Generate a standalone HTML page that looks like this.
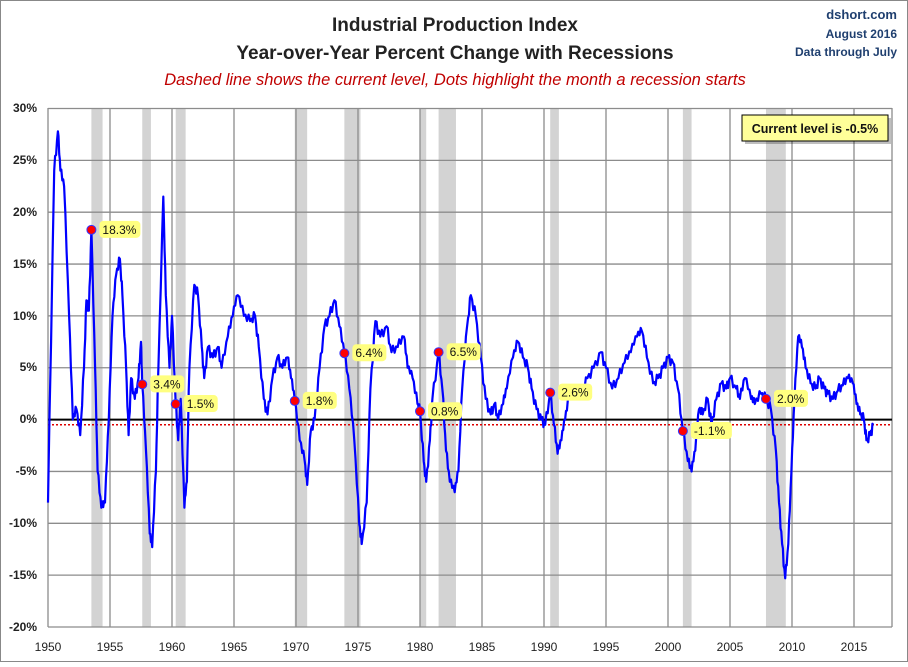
<!DOCTYPE html>
<html><head><meta charset="utf-8"><style>
body{margin:0;background:#fff}
svg text{font-family:"Liberation Sans",sans-serif}
</style></head><body>
<svg id="s" width="908" height="662" xmlns="http://www.w3.org/2000/svg">
<rect x="0.5" y="0.5" width="907" height="661" fill="#fff" stroke="#888"/>
<g id="rec" fill="#d3d3d3"></g>
<g id="grid" stroke="#8c8c8c" stroke-width="1.3"></g>
<line x1="48" y1="419.6" x2="892" y2="419.6" stroke="#000" stroke-width="2"/>
<line x1="48" y1="424.8" x2="892" y2="424.8" stroke="#d00" stroke-width="1.5" stroke-dasharray="2,2"/>
<polyline id="pl" fill="none" stroke="#0000ff" stroke-width="2.2" stroke-linejoin="round"/>
<g id="dots"></g>
<text x="455" y="31" text-anchor="middle" font-size="19" font-weight="bold" fill="#222">Industrial Production Index</text>
<text x="455" y="59" text-anchor="middle" font-size="19" font-weight="bold" fill="#222">Year-over-Year Percent Change with Recessions</text>
<text x="455" y="85" text-anchor="middle" font-size="16.5" font-style="italic" fill="#c00000">Dashed line shows the current level, Dots highlight the month a recession starts</text>
<text x="897" y="19" text-anchor="end" font-size="13" font-weight="bold" fill="#1f3f6f">dshort.com</text>
<text x="897" y="38" text-anchor="end" font-size="12" font-weight="bold" fill="#1f3f6f">August 2016</text>
<text x="897" y="56" text-anchor="end" font-size="12" font-weight="bold" fill="#1f3f6f">Data through July</text>
<rect x="745" y="118" width="146" height="26" fill="#000" opacity="0.25"/>
<rect x="742" y="115" width="146" height="26" fill="#ffff99" stroke="#000"/>
<text x="815" y="133" text-anchor="middle" font-size="12.5" font-weight="bold" fill="#111">Current level is -0.5%</text>
<g font-size="12" font-weight="bold" fill="#222" text-anchor="end">
<text x="37" y="112">30%</text><text x="37" y="164">25%</text><text x="37" y="216">20%</text><text x="37" y="268">15%</text><text x="37" y="320">10%</text><text x="37" y="371">5%</text><text x="37" y="423">0%</text><text x="37" y="475">-5%</text><text x="37" y="527">-10%</text><text x="37" y="579">-15%</text><text x="37" y="631">-20%</text>
</g>
<g font-size="12" fill="#222" text-anchor="middle">
<text x="48" y="651">1950</text><text x="110" y="651">1955</text><text x="172" y="651">1960</text><text x="234" y="651">1965</text><text x="296" y="651">1970</text><text x="358" y="651">1975</text><text x="420" y="651">1980</text><text x="482" y="651">1985</text><text x="544" y="651">1990</text><text x="606" y="651">1995</text><text x="668" y="651">2000</text><text x="730" y="651">2005</text><text x="792" y="651">2010</text><text x="854" y="651">2015</text>
</g>
</svg>
<script>
var X=function(t){return 48+(t-1950)*12.4},Y=function(v){return 419.6-v*10.37};
var N="http://www.w3.org/2000/svg";
function el(p,t,a){var e=document.createElementNS(N,t);for(var k in a)e.setAttribute(k,a[k]);p.appendChild(e);return e}
var rec=[[1953.5,1954.4],[1957.6,1958.3],[1960.3,1961.1],[1969.9,1970.9],[1973.9,1975.2],[1980.0,1980.5],[1981.5,1982.9],[1990.5,1991.2],[2001.2,2001.9],[2007.9,2009.5]];
var R=document.getElementById('rec');
rec.forEach(function(r){el(R,'rect',{x:X(r[0]),y:108,width:X(r[1])-X(r[0]),height:519})});
var G=document.getElementById('grid');
for(var v=-20;v<=30;v+=5){if(v!=0)el(G,'line',{x1:48,x2:892,y1:Y(v),y2:Y(v)})}
for(var y=1950;y<=2015;y+=5)el(G,'line',{x1:X(y),x2:X(y),y1:108,y2:627});
el(G,'line',{x1:892,x2:892,y1:108,y2:627});
var d=[1950.0,-8,1950.5,24,1950.8,27.8,1951.0,24,1951.3,22.5,1951.7,10,1952.0,0,1952.3,1,1952.6,-1.5,1952.9,5,1953.1,11.5,1953.3,10.5,1953.5,18.3,1953.8,5,1954.0,-5,1954.3,-8.5,1954.6,-8,1954.9,0,1955.2,10,1955.5,14,1955.8,15.5,1956.0,12,1956.3,5,1956.5,-1.5,1956.7,4,1957.0,2,1957.3,4,1957.5,7.5,1957.6,3.4,1957.9,-3,1958.2,-11,1958.4,-12.3,1958.7,-5,1958.9,5,1959.3,21.5,1959.5,12,1959.8,5,1960.0,10,1960.3,1.5,1960.5,-2,1960.7,2,1961.0,-8.5,1961.2,-6,1961.4,5,1961.8,13,1962.1,12,1962.4,7,1962.6,4,1962.9,7,1963.3,6,1963.7,7,1964.0,5,1964.5,8,1964.9,10,1965.3,12,1965.8,10,1966.3,9.5,1966.7,10,1967.0,7,1967.4,2,1967.7,0.5,1968.1,4,1968.5,6,1968.9,5,1969.3,6,1969.6,4,1969.9,1.8,1970.3,-2,1970.7,-4,1970.9,-6.3,1971.2,-1,1971.5,0,1971.9,5,1972.3,9,1972.7,10,1973.1,11.5,1973.5,9,1973.9,6.4,1974.3,3,1974.7,-2,1975.1,-10,1975.3,-12,1975.7,-8,1976.0,3,1976.4,9.5,1976.8,8,1977.3,9,1977.7,6.5,1978.2,7,1978.7,8,1979.0,5,1979.4,4,1979.8,1.5,1980.0,0.8,1980.3,-4,1980.5,-6,1980.8,-2,1981.0,2,1981.5,6.5,1981.8,3,1982.1,-3,1982.4,-6,1982.8,-7,1983.1,-5,1983.4,3,1983.8,9,1984.1,12,1984.5,10,1984.9,6,1985.3,2,1985.7,0.5,1986.0,1.5,1986.3,0,1986.7,1.5,1987.0,3,1987.5,6,1987.9,7.5,1988.3,6,1988.7,5,1989.0,3,1989.4,1,1989.8,0,1990.1,-0.5,1990.5,2.6,1990.8,-0.5,1991.1,-3.3,1991.4,-2,1991.7,0,1992.0,2,1992.5,3,1993.0,2.5,1993.5,4,1994.0,5,1994.6,6.5,1995.0,5,1995.5,3,1996.0,4,1996.5,5.5,1997.0,6.5,1997.5,8,1997.9,8.5,1998.3,6,1998.8,3.5,1999.2,4,1999.6,5,2000.0,6,2000.4,5.5,2000.8,3,2001.2,-1.1,2001.6,-4,2001.9,-5,2002.2,-3,2002.5,1,2002.8,0.5,2003.2,2,2003.5,-0.5,2003.9,2,2004.3,3.5,2004.7,3,2005.0,4,2005.5,3,2005.8,2,2006.2,4,2006.7,2,2007.0,1.5,2007.5,2.5,2007.9,2.0,2008.3,1,2008.7,-3,2008.95,-8,2009.2,-12,2009.45,-15.3,2009.7,-12,2009.95,-5,2010.2,2,2010.5,8,2010.8,7,2011.1,5,2011.5,3.5,2011.9,3,2012.2,4,2012.6,3,2012.9,2.5,2013.3,2,2013.7,2.8,2014.1,3.3,2014.5,4,2014.9,3.5,2015.2,1.5,2015.5,0.5,2015.8,0,2016.0,-2,2016.3,-1.5,2016.55,-0.5];
var pts=[];
for(var i=0;i<d.length-2;i+=2){var t0=d[i],v0=d[i+1],t1=d[i+2],v1=d[i+3];
 for(var k=0;k<4;k++){var f=k/4;var j=(k%2?1:-1)*0.5*Math.abs(Math.sin(i*1.7+k));pts.push(X(t0+(t1-t0)*f).toFixed(1)+','+Y(v0+(v1-v0)*f+(k?j:0)).toFixed(1));}}
pts.push(X(2016.55)+','+Y(-0.5));
document.getElementById('pl').setAttribute('points',pts.join(' '));
var D=document.getElementById('dots');
[[1953.5,18.3],[1957.6,3.4],[1960.3,1.5],[1969.9,1.8],[1973.9,6.4],[1980.0,0.8],[1981.5,6.5],[1990.5,2.6],[2001.2,-1.1],[2007.9,2.0]].forEach(function(p){
 var x=X(p[0]),y=Y(p[1]);var s=p[1].toFixed(1)+'%';var w=s.length*7+6;
 el(D,'rect',{x:x+8,y:y-9,width:w,height:17,rx:4,fill:'#ffff80'});
 var t=el(D,'text',{x:x+11,y:y+4,'font-size':12,fill:'#111'});t.textContent=s;
 el(D,'circle',{cx:x,cy:y,r:4.5,fill:'#f00',stroke:'#33f','stroke-width':1});
});
</script>
</body></html>
